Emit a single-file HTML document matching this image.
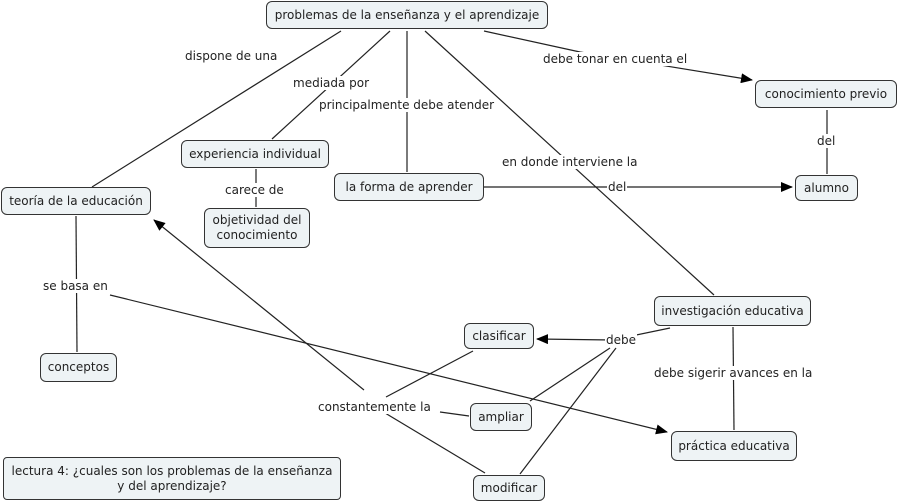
<!DOCTYPE html>
<html><head><meta charset="utf-8"><style>
body{margin:0;width:900px;height:503px;background:#fff;position:relative;overflow:hidden;font-family:"DejaVu Sans","Liberation Sans",sans-serif;font-size:12px;color:#222}
.n{position:absolute;box-sizing:border-box;background:#eef3f5;border:1px solid #333;border-radius:6px;display:flex;align-items:center;justify-content:center;text-align:center;line-height:15px}
.l{position:absolute;background:#fff;white-space:nowrap;line-height:14px;padding:0 1px}
svg{position:absolute;left:0;top:0}
</style></head><body>
<svg width="900" height="503">
<defs><marker id="a" markerWidth="12" markerHeight="10" refX="11" refY="5" orient="auto" markerUnits="userSpaceOnUse"><path d="M0,0L12,5L0,10z" fill="#000"/></marker></defs>
<g stroke="#222" stroke-width="1.2" fill="none">
<line x1="341" y1="31" x2="92" y2="187"/>
<line x1="390" y1="31" x2="272" y2="139"/>
<line x1="407" y1="31" x2="407" y2="172"/>
<line x1="425" y1="31" x2="714" y2="295"/>
<polyline points="484,31 580,52 752,80" marker-end="url(#a)"/>
<line x1="827" y1="110" x2="827" y2="174"/>
<line x1="256" y1="169" x2="256" y2="207"/>
<line x1="484" y1="187" x2="792" y2="187" marker-end="url(#a)"/>
<line x1="76" y1="216" x2="77" y2="352"/>
<polyline points="110,295 667,432" marker-end="url(#a)"/>
<polyline points="364,390 154,220" marker-end="url(#a)"/>
<line x1="386" y1="397" x2="473" y2="351"/>
<line x1="440" y1="412" x2="469" y2="416"/>
<line x1="380" y1="410" x2="485" y2="473"/>
<polyline points="670,328 612,340 537,339" marker-end="url(#a)"/>
<line x1="610" y1="348" x2="530" y2="401"/>
<line x1="616" y1="348" x2="520" y2="474"/>
<line x1="733" y1="327" x2="734" y2="430"/>
</g></svg>
<div class="n" style="left:266px;top:1px;width:282px;height:28px">problemas de la enseñanza y el aprendizaje</div>
<div class="n" style="left:755px;top:80px;width:142px;height:28px">conocimiento previo</div>
<div class="n" style="left:795px;top:175px;width:63px;height:26px">alumno</div>
<div class="n" style="left:1px;top:187px;width:150px;height:28px">teoría de la educación</div>
<div class="n" style="left:181px;top:140px;width:148px;height:28px">experiencia individual</div>
<div class="n" style="left:204px;top:208px;width:106px;height:40px">objetividad del<br>conocimiento</div>
<div class="n" style="left:334px;top:173px;width:150px;height:28px">la forma de aprender</div>
<div class="n" style="left:654px;top:296px;width:157px;height:30px">investigación educativa</div>
<div class="n" style="left:464px;top:323px;width:70px;height:26px">clasificar</div>
<div class="n" style="left:470px;top:403px;width:62px;height:28px">ampliar</div>
<div class="n" style="left:671px;top:431px;width:126px;height:30px">práctica educativa</div>
<div class="n" style="left:473px;top:475px;width:72px;height:26px">modificar</div>
<div class="n" style="left:40px;top:353px;width:77px;height:29px">conceptos</div>
<div class="n" style="left:3px;top:457px;width:338px;height:43px;border-radius:4px">lectura 4: ¿cuales son los problemas de la enseñanza<br>y del aprendizaje?</div>
<div class="l" style="left:184px;top:49px">dispone de una</div>
<div class="l" style="left:292px;top:76px">mediada por</div>
<div class="l" style="left:318px;top:98px">principalmente debe atender</div>
<div class="l" style="left:542px;top:52px">debe tonar en cuenta el</div>
<div class="l" style="left:816px;top:134px">del</div>
<div class="l" style="left:501px;top:155px">en donde interviene la</div>
<div class="l" style="left:607px;top:180px">del</div>
<div class="l" style="left:224px;top:183px">carece de</div>
<div class="l" style="left:42px;top:279px">se basa en</div>
<div class="l" style="left:605px;top:333px">debe</div>
<div class="l" style="left:653px;top:366px">debe sigerir avances en la</div>
<div class="l" style="left:317px;top:400px">constantemente la</div>
</body></html>
